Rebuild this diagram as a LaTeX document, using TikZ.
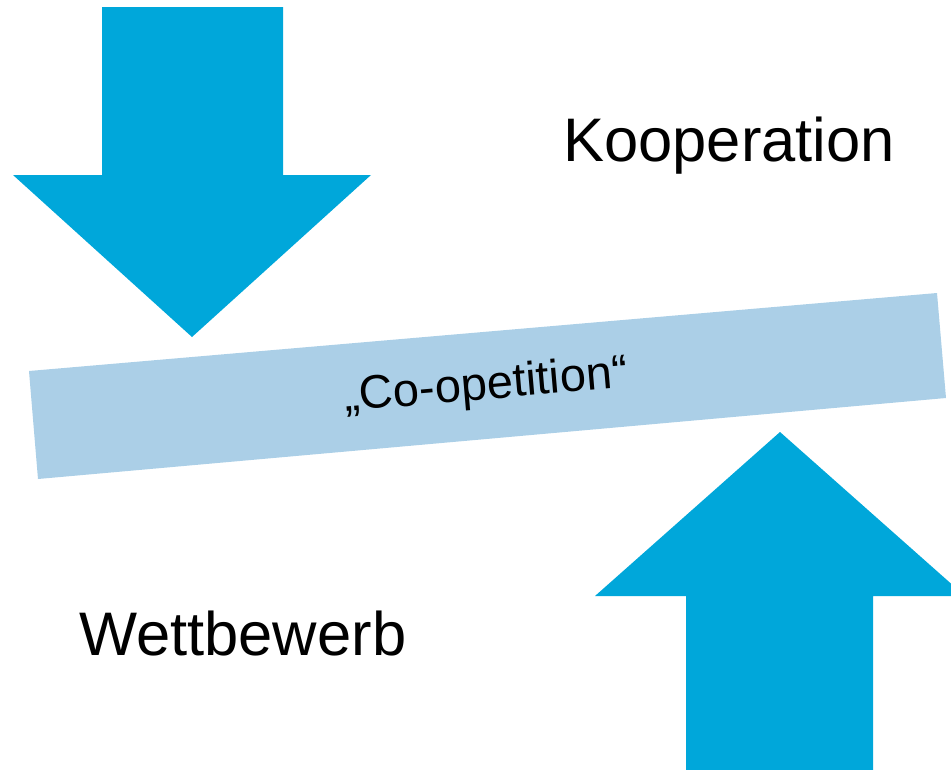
\documentclass[tikz,border=0pt]{standalone}
\usepackage{fontspec}
\setmainfont{Liberation Sans}
\definecolor{arrowblue}{RGB}{0,167,218}
\definecolor{barblue}{RGB}{171,207,231}
\begin{document}
\begin{tikzpicture}[x=1pt,y=-1pt,
  blockarrow/.style={fill=arrowblue,draw=none},
  label/.style={inner sep=0pt,anchor=base west,font=\fontsize{61.5}{73}\selectfont}]
\useasboundingbox (0,0) rectangle (951,769);
\begin{scope}
\clip (0,0) rectangle (951,769);
% downward block arrow (top left)
\fill[blockarrow] (102,7) -- (283,7) -- (283,175) -- (371,175)
  -- (192,337) -- (13,175) -- (102,175) -- cycle;
% upward block arrow (bottom right)
\fill[blockarrow] (686,775) -- (686,596) -- (595,596) -- (780,432)
  -- (965,596) -- (873,596) -- (873,775) -- cycle;
% tilted bar
\coordinate (b1) at (29,371);
\coordinate (b2) at (937,293);
\coordinate (b3) at (946,398);
\coordinate (b4) at (38,479);
\fill[barblue] (b1) -- (b2) -- (b3) -- (b4) -- cycle;
\end{scope}
\node[rotate=4.9,inner sep=0pt,font=\fontsize{47}{56}\selectfont]
  (coop) at (486,387) {„Co-opetition“};
\node[label] (koop) at (563,161) {Kooperation};
\node[label] (wett) at (79,655) {Wettbewerb};
\end{tikzpicture}
\end{document}
